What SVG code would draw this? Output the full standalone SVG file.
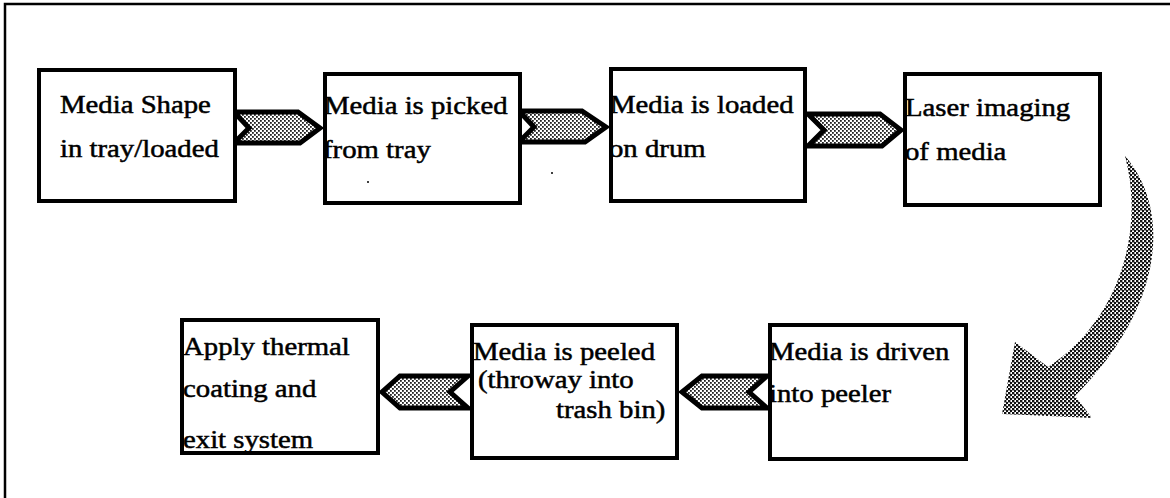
<svg xmlns="http://www.w3.org/2000/svg" width="1170" height="498" viewBox="0 0 1170 498">
<defs>
<pattern id="hatchDark" width="4" height="4" patternUnits="userSpaceOnUse">
<rect width="4" height="4" fill="#ffffff"/>
<rect x="0" y="0" width="2.4" height="2.4" fill="#111"/>
<rect x="2" y="2" width="2.4" height="2.4" fill="#111"/>
</pattern>
<pattern id="hatchLight" width="4" height="4" patternUnits="userSpaceOnUse">
<rect width="4" height="4" fill="#ffffff"/>
<rect x="0" y="0" width="1.8" height="1.8" fill="#222"/>
<rect x="2" y="2" width="1.8" height="1.8" fill="#222"/>
</pattern>
</defs>
<style>
.box{fill:#ffffff;stroke:#000;stroke-width:4}
.t{font-family:"Liberation Serif","Times New Roman",serif;font-size:25px;fill:#000;stroke:#000;stroke-width:0.5}
.chev{fill:url(#hatchLight);stroke:#000;stroke-width:5;stroke-linejoin:miter}
.frame{stroke:#000;stroke-width:2.5;fill:none}
</style>
<rect width="1170" height="498" fill="#ffffff"/>
<path class="frame" d="M5,498 L5,4 L1170,4"/>

<g id="connectors">
<path class="chev" d="M234,112 L298,112 L320,128 L300,143 L234,143 L249,128 Z"/>
<path class="chev" d="M519,111 L582,111 L606,127 L585,142 L519,142 L534,127 Z"/>
<path class="chev" d="M808,114 L880,114 L901,130 L882,146 L808,146 L824,130 Z"/>
<path class="chev" d="M767,376 L702,376 L682,392 L702,408 L767,408 L749,392 Z"/>
<path class="chev" d="M468,376 L400,376 L382,392 L400,408 L468,408 L450,392 Z"/>
<path id="curved-arrow" fill="url(#hatchDark)" d="M1125,156 C1168,205 1170,300 1075,396 L1092,418 L1002,414 L1015,342 L1048,367 C1120,320 1145,230 1125,156 Z"/>
</g>

<g id="node1">
<rect class="box" x="39" y="70" width="196" height="131"/>
<text class="t" transform="translate(60,113) scale(1.15,1)">Media Shape</text>
<text class="t" transform="translate(60,157) scale(1.15,1)">in tray/loaded</text>
</g>
<g id="node2">
<rect class="box" x="325" y="74" width="195" height="129"/>
<text class="t" transform="translate(324,114) scale(1.15,1)">Media is picked</text>
<text class="t" transform="translate(323,158) scale(1.15,1)">from tray</text>
</g>
<g id="node3">
<rect class="box" x="611" y="69" width="194" height="132"/>
<text class="t" transform="translate(610,113) scale(1.15,1)">Media is loaded</text>
<text class="t" transform="translate(609,157) scale(1.15,1)">on drum</text>
</g>
<g id="node4">
<rect class="box" x="905" y="74" width="195" height="131"/>
<text class="t" transform="translate(905,116) scale(1.15,1)">Laser imaging</text>
<text class="t" transform="translate(905,160) scale(1.15,1)">of media</text>
</g>
<g id="node5">
<rect class="box" x="770" y="325" width="196" height="134"/>
<text class="t" transform="translate(769,360) scale(1.15,1)">Media is driven</text>
<text class="t" transform="translate(769,402) scale(1.15,1)">into peeler</text>
</g>
<g id="node6">
<rect class="box" x="472" y="325" width="205" height="133"/>
<text class="t" transform="translate(473,360) scale(1.15,1)">Media is peeled</text>
<text class="t" transform="translate(478,388) scale(1.15,1)">(throway into</text>
<text class="t" transform="translate(556,418) scale(1.15,1)">trash bin)</text>
</g>
<g id="node7">
<rect class="box" x="182" y="320" width="196" height="133"/>
<text class="t" transform="translate(183,355) scale(1.15,1)">Apply thermal</text>
<text class="t" transform="translate(183,397) scale(1.15,1)">coating and</text>
<text class="t" transform="translate(183,448) scale(1.15,1)">exit system</text>
</g>
<circle cx="368" cy="182" r="1" fill="#000"/>
<circle cx="552" cy="173" r="1" fill="#000"/>
</svg>
